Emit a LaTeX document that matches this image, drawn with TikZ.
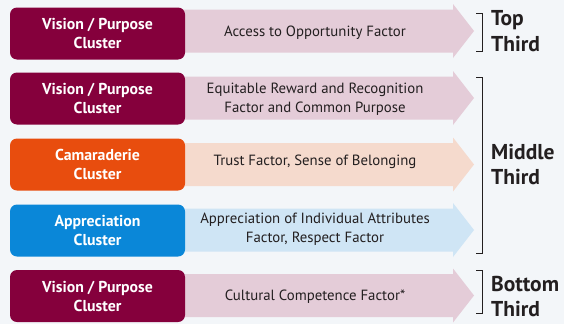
\documentclass[tikz,border=0pt]{standalone}
\usepackage{fontspec}
\setmainfont{PT Sans}
\definecolor{bg}{HTML}{F3F6F9}
\definecolor{maroon}{HTML}{85003C}
\definecolor{orng}{HTML}{E84D0E}
\definecolor{blu}{HTML}{0A87D8}
\definecolor{pinkf}{HTML}{E4CCD8}
\definecolor{peachf}{HTML}{F5DACD}
\definecolor{bluef}{HTML}{CFE5F5}
\definecolor{txt}{HTML}{231F20}
\tikzset{
  clbox/.style={rounded corners=7pt, minimum width=175pt, minimum height=52pt,
    text=white, font=\bfseries\fontsize{15.8}{19}\selectfont, align=center, inner sep=0pt},
  arrtext/.style={font=\fontsize{14.8}{18.5}\selectfont, text=txt, align=center, inner sep=0pt},
  brk/.style={draw=txt, line width=0.8pt},
  thirdlbl/.style={font=\bfseries\fontsize{21.5}{25.5}\selectfont, text=txt, align=left, anchor=west, inner sep=0pt}
}
\newcommand{\bigarr}[2]{%
  \fill[#2] (183,#1-21.5) -- (453,#1-21.5) -- (453,#1-27) -- (474,#1) -- (453,#1+27) -- (453,#1+21.5) -- (183,#1+21.5) -- cycle;}
\begin{document}
\begin{tikzpicture}[x=1pt,y=-1pt]
\fill[bg] (0,0) rectangle (564,324);
\useasboundingbox (0,0) rectangle (564,324);
% arrows
\bigarr{31}{pinkf}
\bigarr{98}{pinkf}
\bigarr{164.5}{peachf}
\bigarr{230}{bluef}
\bigarr{295.5}{pinkf}
% boxes
\node[clbox, fill=maroon] (b1) at (97.5,33.5) {Vision / Purpose\\Cluster};
\node[clbox, fill=maroon] (b2) at (97.5,98.5) {Vision / Purpose\\Cluster};
\node[clbox, fill=orng] (b3) at (97.5,164.5) {Camaraderie\\Cluster};
\node[clbox, fill=blu] (b4) at (97.5,230.5) {Appreciation\\Cluster};
\node[clbox, fill=maroon] (b5) at (97.5,296) {Vision / Purpose\\Cluster};
% arrow texts
\node[arrtext] (t1) at (315,32.5) {Access to Opportunity Factor};
\node[arrtext] (t2) at (315,99) {Equitable Reward and Recognition\\Factor and Common Purpose};
\node[arrtext] (t3) at (315,161.5) {Trust Factor, Sense of Belonging};
\node[arrtext] (t4) at (315,229) {Appreciation of Individual Attributes\\Factor, Respect Factor};
\node[arrtext] (t5) at (315,297) {Cultural Competence Factor*};
% brackets
\draw[brk] (476,13) -- (482,13) -- (482,51) -- (476,51);
\draw[brk] (476,77) -- (482,77) -- (482,253) -- (476,253);
\draw[brk] (476,270) -- (482,270) -- (482,313) -- (476,313);
% labels
\node[thirdlbl] (l1) at (491,31) {Top\\Third};
\node[thirdlbl] (l2) at (491,164.5) {Middle\\Third};
\node[thirdlbl] (l3) at (491,296.5) {Bottom\\Third};
\end{tikzpicture}
\end{document}
